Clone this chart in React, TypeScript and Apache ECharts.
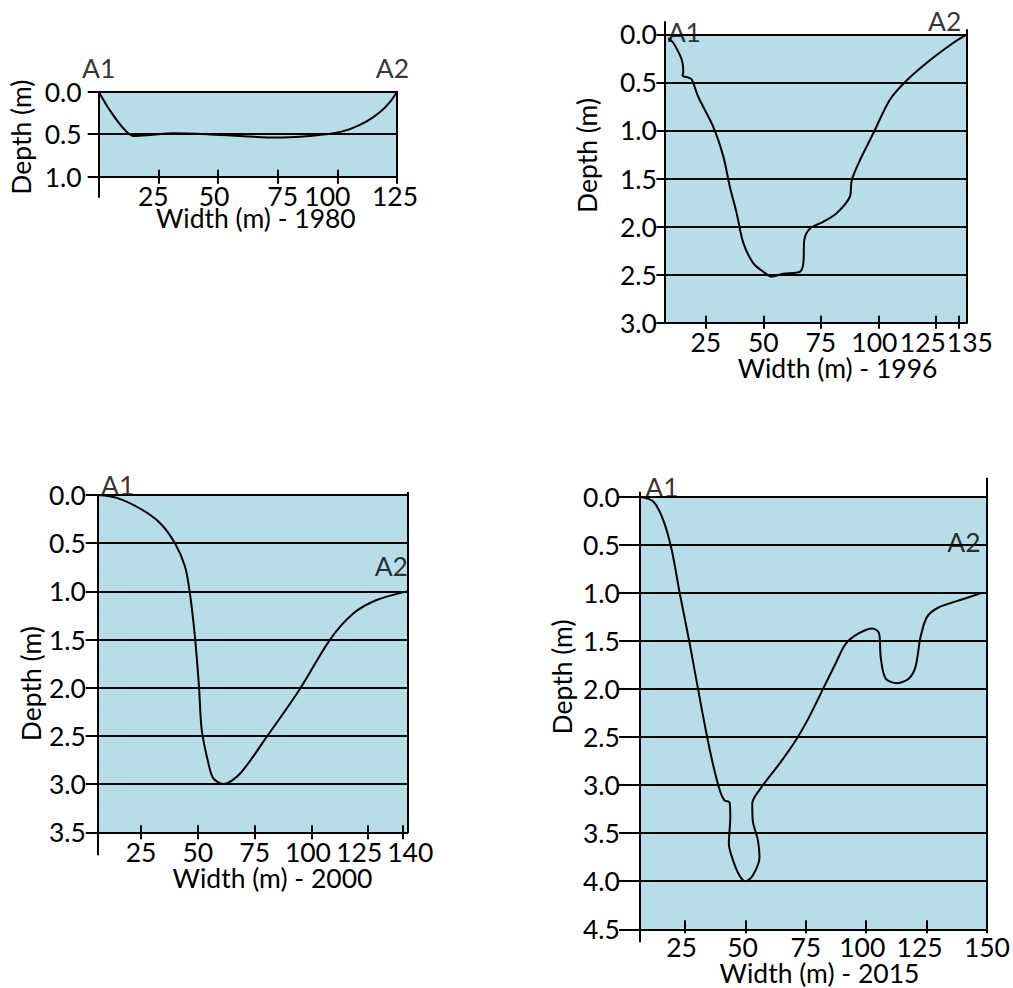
import React, { useEffect, useRef } from "react";
import * as echarts from "echarts";

const FONT = "Lato, 'Open Sans', 'DejaVu Sans', sans-serif";
const FONT_SIZE = 26.5;
const X_LINE_HEIGHT = 20;
const FILL = "#b7dee8";
const INK = "#000000";

const endpointNames = ["A1", "A2"];
const depthAxisName = "Depth (m)";
const widthAxisPrefix = "Width (m) - ";
const years = ["1980", "1996", "2000", "2015"];
const depthMax = [1, 3, 3.5, 4.5];

// 1980 cross-section
const xTicks1980 = [25, 50, 75, 100, 125];
const width1980 = [0, 4.7, 10.3, 14.5, 21.5, 31.3, 45.3, 59.2, 74.6, 88.5, 98.3, 105.3, 112.3, 117.9, 122.1, 125];
const depth1980 = [0, 0.22, 0.43, 0.52, 0.51, 0.49, 0.5, 0.52, 0.54, 0.52, 0.49, 0.44, 0.35, 0.24, 0.12, 0];

// 1996 cross-section
const xTicks1996 = [25, 50, 75, 100, 125, 135];
const width1996 = [8.7, 10.9, 13.8, 14.9, 15.2, 14.9, 17.4, 18.9, 21.7, 28.2, 32.6, 35.5, 38.4, 41.3, 45.6, 50.0, 53.6, 58.7, 65.9, 67.4, 67.8, 70.3, 76.0, 81.9, 87.6, 88.4, 92.0, 97.8, 105.0, 112.3, 122.4, 132.5, 138.4];
const depth1996 = [0.04, 0.09, 0.22, 0.3, 0.39, 0.43, 0.45, 0.47, 0.65, 0.96, 1.27, 1.59, 1.86, 2.17, 2.38, 2.47, 2.52, 2.49, 2.47, 2.38, 2.14, 2.02, 1.95, 1.86, 1.69, 1.52, 1.31, 1.03, 0.68, 0.48, 0.27, 0.09, 0];

// 2000 cross-section
const xTicks2000 = [25, 50, 75, 100, 125, 140];
const width2000 = [5.9, 14.3, 24.5, 33.3, 39.9, 44.3, 46.5, 48.7, 50.5, 51.7, 54.6, 56.8, 61.2, 68.6, 80.3, 95.0, 108.2, 118.4, 128.7, 142.2];
const depth2000 = [0, 0.03, 0.14, 0.29, 0.5, 0.74, 1.02, 1.47, 1.99, 2.44, 2.78, 2.94, 3.0, 2.89, 2.51, 2.01, 1.5, 1.23, 1.09, 1.0];

// 2015 cross-section
const xTicks2015 = [25, 50, 75, 100, 125, 150];
const width2015 = [6.3, 11.8, 15.9, 19.4, 22.8, 26.9, 30.4, 33.8, 36.5, 39.3, 41.3, 43.4, 43.7, 43.1, 44.8, 47.5, 50.0, 53.0, 55.8, 55.1, 53.0, 52.8, 55.8, 64.0, 70.9, 76.4, 81.9, 87.4, 91.5, 97.0, 102.5, 105.3, 106.0, 108.0, 112.8, 117.7, 120.4, 122.5, 125.2, 130.1, 138.3, 147.9];
const depth2015 = [0, 0.05, 0.24, 0.55, 1.01, 1.53, 2.01, 2.46, 2.78, 3.05, 3.16, 3.18, 3.33, 3.61, 3.78, 3.94, 4.0, 3.94, 3.75, 3.57, 3.37, 3.19, 3.05, 2.78, 2.53, 2.29, 2.01, 1.73, 1.53, 1.42, 1.37, 1.42, 1.67, 1.89, 1.94, 1.89, 1.77, 1.46, 1.25, 1.15, 1.08, 1.0];

const widths = [width1980, width1996, width2000, width2015];
const depths = [depth1980, depth1996, depth2000, depth2015];
const xTicks = [xTicks1980, xTicks1996, xTicks2000, xTicks2015];

// Layout / style settings for each panel (pixels)
const layouts = [
  {
    left: 98.7, top: 91.7, width: 298.3, height: 85, xMin: 0, xMax: 125,
    xTickOut: 7, xTickIn: 7, bottomExt: 21, topExtLeft: 0, topExtRight: 0,
    xLabelMargin: 9.5, xNameGap: 31.5, xNameShift: 8,
    labelShift: { 25: -5, 50: -4, 75: 5, 100: -10, 125: -2 } as Record<number, number>,
    yTick: 11, yLabelMargin: 17, yNameGap: 64, yNameShift: 3,
    a1: [0, -24], a2: [-4.5, -24],
  },
  {
    left: 664.4, top: 34.3, width: 302.3, height: 288.4, xMin: 7, xMax: 138.4,
    xTickOut: 6, xTickIn: 7, bottomExt: 0, topExtLeft: 13, topExtRight: 5,
    xLabelMargin: 8.8, xNameGap: 34.8, xNameShift: 22,
    labelShift: { 100: -4, 125: -13, 135: 11 } as Record<number, number>,
    yTick: 8, yLabelMargin: 7.5, yNameGap: 64, yNameShift: -23,
    a1: [16, -6], a2: [-22, -13],
  },
  {
    left: 97.7, top: 495, width: 309.6, height: 337.3, xMin: 5.9, xMax: 142.2,
    xTickOut: 7, xTickIn: 7, bottomExt: 23, topExtLeft: 0, topExtRight: 3,
    xLabelMargin: 9.4, xNameGap: 35.2, xNameShift: 20,
    labelShift: { 100: -3.5, 125: -9, 140: 8 } as Record<number, number>,
    yTick: 12, yLabelMargin: 11.7, yNameGap: 53, yNameShift: 20,
    a1: [20, -10], a2: [-16, -25],
  },
  {
    left: 640, top: 496.7, width: 348.3, height: 432.6, xMin: 6.3, xMax: 150,
    xTickOut: 4, xTickIn: 9, bottomExt: 13, topExtLeft: 5, topExtRight: 19,
    xLabelMargin: 8, xNameGap: 33.2, xNameShift: 6,
    labelShift: { 25: -3.6, 50: -3, 100: -4, 125: -7 } as Record<number, number>,
    yTick: 21, yLabelMargin: 20, yNameGap: 65, yNameShift: -36,
    a1: [22, -10], a2: [-18, -51],
  },
];

const textStyle = { fontSize: FONT_SIZE, fontFamily: FONT, color: INK };
const lineStyle = { color: INK, width: 2 };

function shiftPadding(s: number) {
  return s >= 0 ? [0, 0, 0, 2 * s] : [0, -2 * s, 0, 0];
}

function hiddenTickAxis(gridIndex: number, min: number, max: number, position: string, values: number[], length: number, inside: boolean) {
  return {
    gridIndex, type: "value", min, max, position,
    axisLine: { show: false, onZero: false },
    axisTick: { show: true, inside, length, customValues: values, lineStyle },
    axisLabel: { show: false },
    splitLine: { show: false },
  };
}

// one label per auxiliary axis so that no label is hidden by overlap handling
function labelAxis(gridIndex: number, min: number, max: number, value: number, shift: number, margin: number) {
  return {
    gridIndex, type: "value", min, max, position: "bottom",
    axisLine: { show: false, onZero: false },
    axisTick: { show: false },
    axisLabel: {
      ...textStyle, lineHeight: X_LINE_HEIGHT, margin, customValues: [value],
      showMinLabel: true, showMaxLabel: true, hideOverlap: false,
      formatter: (v: number) => `{s|${v}}`,
      rich: { s: { ...textStyle, lineHeight: X_LINE_HEIGHT, padding: shiftPadding(shift) } },
    },
    splitLine: { show: false },
  };
}

function buildOption() {
  const grid: any[] = [];
  const xAxis: any[] = [];
  const yAxis: any[] = [];
  const series: any[] = [];

  layouts.forEach((p, i) => {
    grid.push({
      left: p.left, top: p.top, width: p.width, height: p.height,
      show: true, backgroundColor: FILL, borderWidth: 0,
    });

    const mainX = xAxis.length;
    xAxis.push({
      gridIndex: i, type: "value", min: p.xMin, max: p.xMax, position: "bottom",
      name: widthAxisPrefix + years[i], nameLocation: "middle", nameGap: p.xNameGap,
      nameTextStyle: { ...textStyle, lineHeight: X_LINE_HEIGHT, padding: shiftPadding(p.xNameShift) },
      axisLine: { show: true, onZero: false, lineStyle },
      axisTick: { show: true, inside: false, length: p.xTickOut, customValues: xTicks[i], lineStyle },
      axisLabel: { show: false },
      splitLine: { show: false },
    });
    xTicks[i].forEach((v) => {
      xAxis.push(labelAxis(i, p.xMin, p.xMax, v, p.labelShift[v] || 0, p.xLabelMargin));
    });
    xAxis.push(hiddenTickAxis(i, p.xMin, p.xMax, "bottom", xTicks[i], p.xTickIn, true));
    if (p.bottomExt) xAxis.push(hiddenTickAxis(i, p.xMin, p.xMax, "bottom", [p.xMin], p.bottomExt, false));
    if (p.topExtLeft) xAxis.push(hiddenTickAxis(i, p.xMin, p.xMax, "top", [p.xMin], p.topExtLeft, false));
    if (p.topExtRight) xAxis.push(hiddenTickAxis(i, p.xMin, p.xMax, "top", [p.xMax], p.topExtRight, false));

    const mainY = yAxis.length;
    const ys = p.yNameShift;
    yAxis.push({
      gridIndex: i, type: "value", inverse: true, min: 0, max: depthMax[i], interval: 0.5, position: "left",
      name: depthAxisName, nameLocation: "middle", nameGap: p.yNameGap, nameRotate: 90,
      nameTextStyle: { ...textStyle, padding: ys >= 0 ? [0, 2 * ys, 0, 0] : [0, 0, 0, -2 * ys] },
      axisLine: { show: true, onZero: false, lineStyle },
      axisTick: { show: true, inside: false, length: p.yTick, lineStyle },
      axisLabel: {
        ...textStyle, margin: p.yLabelMargin, showMinLabel: true, showMaxLabel: true, hideOverlap: false,
        formatter: (v: number) => v.toFixed(1),
      },
      splitLine: { show: true, lineStyle },
    });
    yAxis.push({
      gridIndex: i, type: "value", min: 0, max: 1, position: "right",
      axisLine: { show: true, onZero: false, lineStyle },
      axisTick: { show: false }, axisLabel: { show: false }, splitLine: { show: false },
    });

    const pts = widths[i].map((w, k) => [w, depths[i][k]]);
    series.push({
      type: "line", xAxisIndex: mainX, yAxisIndex: mainY, data: pts,
      smooth: 0.3, showSymbol: false, symbol: "none", clip: false, silent: true,
      lineStyle: { color: INK, width: 2 }, z: 5,
    });
    const last = pts.length - 1;
    series.push({
      type: "scatter", xAxisIndex: mainX, yAxisIndex: mainY, clip: false, silent: true,
      symbolSize: 1, itemStyle: { color: "transparent" }, z: 6,
      label: {
        show: true, position: "inside", ...textStyle,
        formatter: (q: any) => endpointNames[q.dataIndex],
      },
      data: [
        { value: pts[0], label: { offset: p.a1 } },
        { value: pts[last], label: { offset: p.a2 } },
      ],
    });
  });

  return { animation: false, backgroundColor: "#ffffff", grid, xAxis, yAxis, series };
}

export default function App() {
  const ref = useRef<HTMLDivElement>(null);
  useEffect(() => {
    const chart = echarts.init(ref.current!, null, { renderer: "svg" });
    chart.setOption(buildOption() as any);
    return () => chart.dispose();
  }, []);
  return <div ref={ref} style={{ position: "fixed", left: 0, top: 0, width: 1013, height: 988 }} />;
}
